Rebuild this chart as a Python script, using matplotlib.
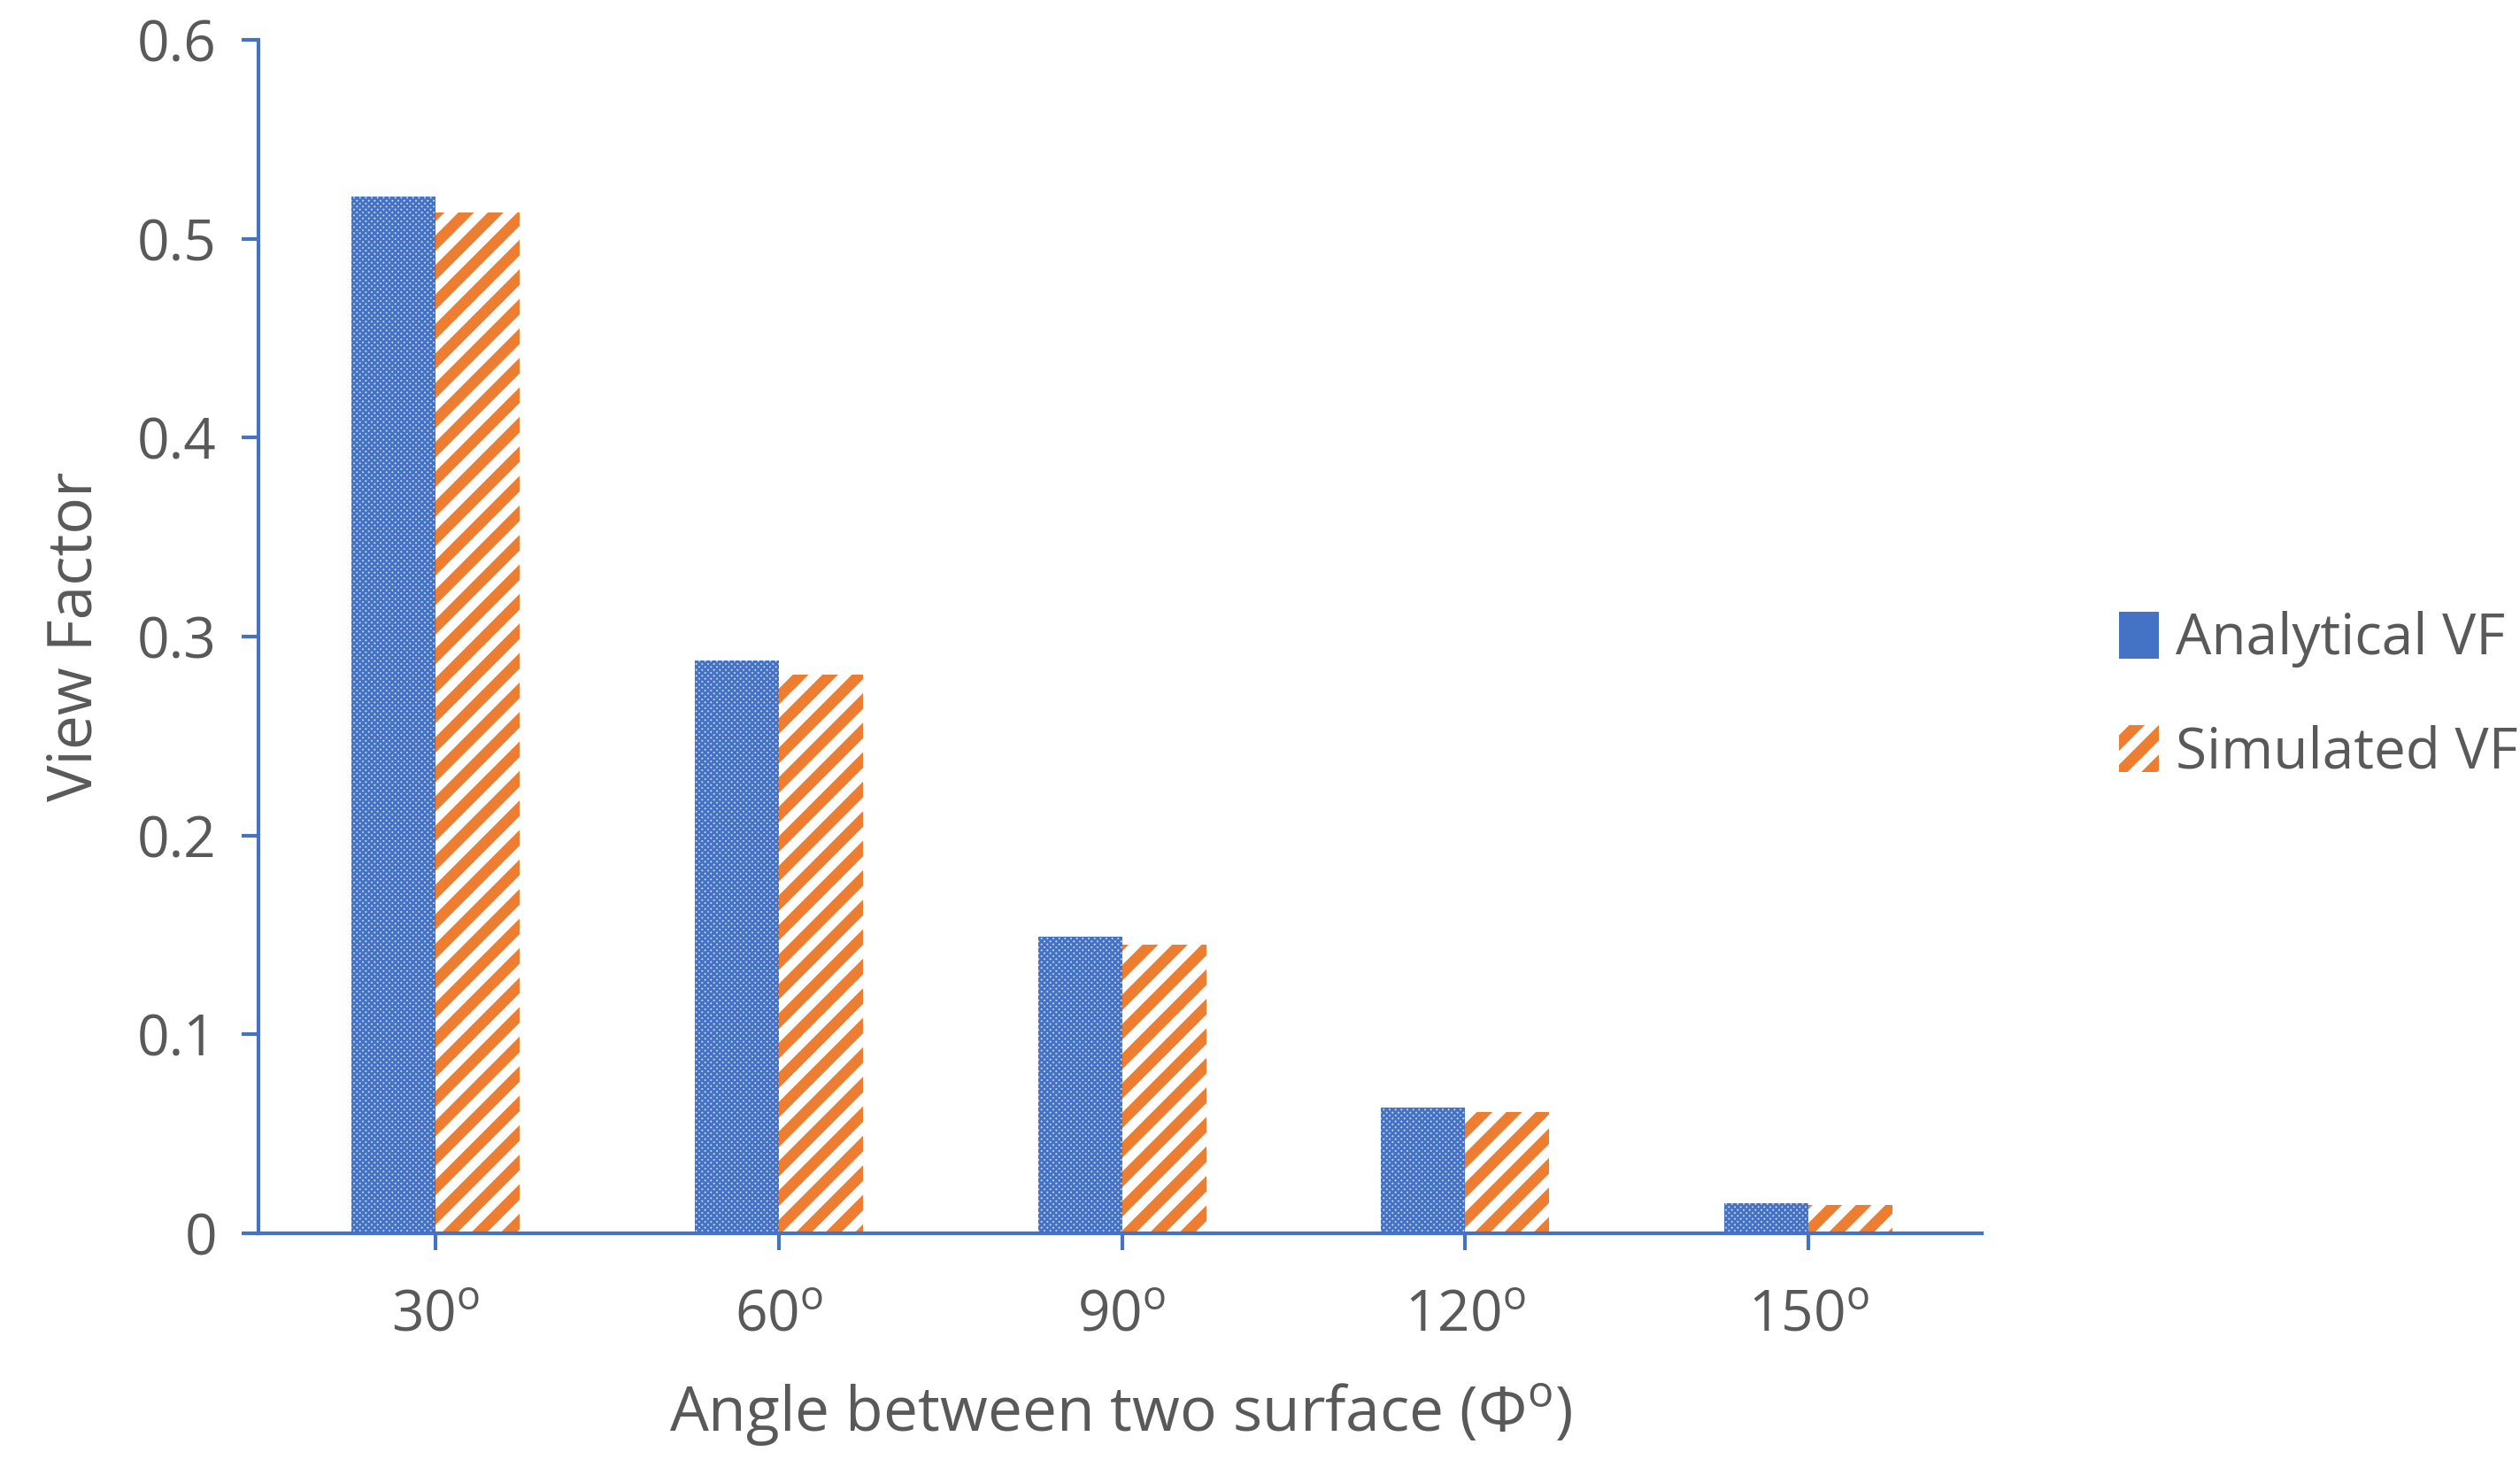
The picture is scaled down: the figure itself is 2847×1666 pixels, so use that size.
import matplotlib
matplotlib.use("Agg")
import matplotlib.pyplot as plt
import numpy as np

categories = ["30$^{\\mathregular{o}}$", "60$^{\\mathregular{o}}$", "90$^{\\mathregular{o}}$", "120$^{\\mathregular{o}}$", "150$^{\\mathregular{o}}$"]
analytical = [0.521, 0.288, 0.149, 0.063, 0.015]
simulated = [0.513, 0.281, 0.145, 0.061, 0.014]

plt.rcParams['font.family'] = ['Open Sans', 'DejaVu Sans']
fig = plt.figure(figsize=(28.47, 16.66), dpi=100)
ax = fig.add_axes([0.1026, 0.164, 0.684, 0.809])
x = np.arange(len(categories))
w = 0.245
plt.rcParams['hatch.linewidth'] = 2.0
ax.bar(x - w/2, analytical, w, facecolor='#c9d5ee', edgecolor='#4472C4', hatch='xxxxx', linewidth=0, label='Analytical VF')
plt.rcParams['hatch.linewidth'] = 9
ax.bar(x + w/2, simulated, w, facecolor='white', edgecolor='#ED7D31', hatch='/', linewidth=0, label='Simulated VF')
ax.set_xlim(-0.516, 4.507)
ax.set_ylim(0, 0.6)
ax.set_yticks(np.arange(0, 0.61, 0.1))
ax.set_yticklabels(["0", "0.1", "0.2", "0.3", "0.4", "0.5", "0.6"])
ax.set_xticks(x)
ax.set_xticklabels(categories)
for s in ['top', 'right']:
    ax.spines[s].set_visible(False)
for s in ['left', 'bottom']:
    ax.spines[s].set_color('#4472C4')
    ax.spines[s].set_linewidth(3)
ax.tick_params(axis='both', colors='#4472C4', length=14, width=3, labelsize=46, labelcolor='#595959')
ax.tick_params(axis='x', pad=30)
ax.tick_params(axis='y', pad=20)
ax.set_xlabel("Angle between two surface (Φ$^{\\mathregular{o}}$)", fontsize=50, color='#595959', labelpad=30)
ax.set_ylabel("View Factor", fontsize=50, color='#595959', labelpad=25)
ax.legend(loc='center left', bbox_to_anchor=(1.05, 0.45), frameon=False, fontsize=46,
          labelcolor='#595959', handlelength=0.7, handleheight=0.9, handletextpad=0.3, labelspacing=1.0)
fig.savefig("out.png", dpi=100)
